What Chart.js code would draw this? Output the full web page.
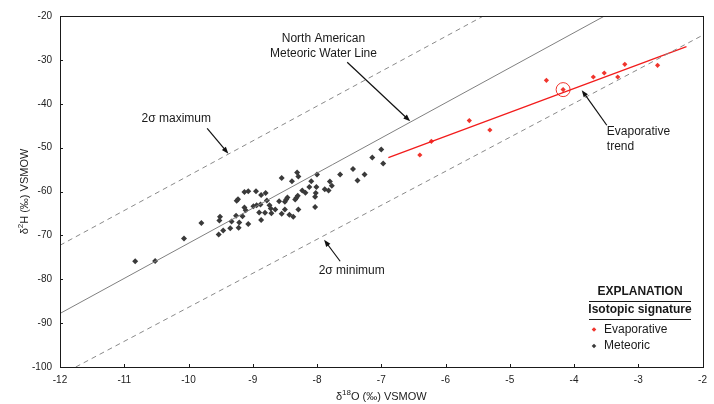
<!DOCTYPE html>
<html>
<head>
<meta charset="utf-8">
<script src="https://cdn.jsdelivr.net/npm/chart.js@4"></script>
<style>
  html,body{margin:0;padding:0;background:#fff;}
  #c{display:block;}
</style>
</head>
<body>
<canvas id="c" width="714" height="404"></canvas>
<script>
// ---- data ----
const metX=[-7.00,-7.14,-6.97,-7.44,-7.26,-7.37,-7.64,-8.00,-8.31,-8.29,
  -8.55,-8.39,-7.80,-7.77,-8.09,-8.12,-8.01,-7.88,-7.82,-8.02,
  -8.18,-8.23,-8.03,-8.30,-8.32,-8.34,-8.46,-8.48,-8.50,-8.59,
  -8.80,-8.87,-8.95,-9.07,-9.13,-8.78,-9.23,-9.25,-8.88,-8.74,
  -8.72,-8.65,-8.94,-8.99,-9.13,-9.11,-8.50,-8.29,-8.03,-8.90,
  -8.81,-8.71,-8.55,-9.26,-8.43,-8.37,-8.87,-9.33,-9.21,-9.07,
  -9.35,-9.22,-9.16,-10.83,-10.52,-10.07,-9.80,-9.53,-9.46,-9.52,-9.51];
const metY=[-50.45,-52.27,-53.64,-54.87,-56.15,-57.52,-56.15,-56.13,-55.69,-56.58,
  -56.92,-57.68,-57.72,-58.70,-57.68,-58.97,-59.00,-59.50,-59.77,-60.34,
  -60.30,-59.77,-61.21,-60.98,-61.44,-61.85,-61.39,-61.85,-62.35,-62.23,
  -60.34,-60.82,-59.95,-59.95,-60.14,-62.07,-61.78,-62.12,-62.99,-63.15,
  -63.90,-64.13,-63.15,-63.37,-63.65,-64.29,-64.13,-64.13,-63.53,-64.81,
  -64.86,-64.97,-65.08,-65.54,-65.31,-65.77,-66.52,-66.84,-67.07,-67.43,
  -68.39,-68.27,-65.65,-75.91,-75.84,-70.73,-67.20,-69.82,-68.91,-66.61,-65.77];
const evapX=[-4.43,-4.17,-3.70,-3.53,-3.21,-3.32,-2.70,-5.63,-5.31,-6.22,-6.40];
const evapY=[-34.66,-36.78,-33.90,-32.99,-31.01,-33.90,-31.24,-43.84,-45.98,-48.56,-51.68];
const circledX=[-4.17], circledY=[-36.78];

const trendX=[-6.89,-2.25], trendY=[-52.27,-27.0];
const mwlX=[-12,-3.525], mwlY=[-87.8,-20];
const maxX=[-12,-5.41], maxY=[-72.26,-20];
const minX=[-11.755,-2], minY=[-100,-24.4];

const xTicks=[-12,-11,-10,-9,-8,-7,-6,-5,-4,-3,-2];
const yTicks=[-100,-90,-80,-70,-60,-50,-40,-30,-20];

const pts=(xs,ys)=>xs.map((x,i)=>({x:x,y:ys[i]}));

// annotation placement in data units
const notes=[
  {lines:['North American','Meteoric Water Line'],x:-7.90,y:-25.1,align:'center'},
  {lines:['2\u03c3 maximum'],x:-10.19,y:-43.3,align:'center'},
  {lines:['2\u03c3 minimum'],x:-7.46,y:-78.0,align:'center'},
  {lines:['Evaporative','trend'],x:-3.49,y:-46.3,align:'left'}
];
const arrows=[
  [-7.53,-30.55,-6.55,-44.0],
  [-9.71,-45.6,-9.38,-51.4],
  [-7.64,-75.9,-7.89,-71.0],
  [-3.49,-44.9,-3.88,-36.9]
];

const FONT="'Liberation Sans', Arial, sans-serif";
const MET='#3a3a3a', EVAP='#f0352d';

function arrow(ctx,x1,y1,x2,y2){
  const a=Math.atan2(y2-y1,x2-x1), L=7, W=2.6;
  ctx.beginPath();ctx.moveTo(x1,y1);ctx.lineTo(x2-Math.cos(a)*L*0.8,y2-Math.sin(a)*L*0.8);ctx.stroke();
  ctx.beginPath();
  ctx.moveTo(x2,y2);
  ctx.lineTo(x2-L*Math.cos(a)+W*Math.sin(a),y2-L*Math.sin(a)-W*Math.cos(a));
  ctx.lineTo(x2-L*Math.cos(a)-W*Math.sin(a),y2-L*Math.sin(a)+W*Math.cos(a));
  ctx.closePath();ctx.fill();
}

function supText(ctx,parts,cx,cy){
  // parts: [text, isSuper]
  let w=0;
  parts.forEach(p=>{ctx.font=(p[1]?'8px ':'11px ')+FONT;w+=ctx.measureText(p[0]).width;});
  let x=cx-w/2;
  ctx.textAlign='left';ctx.textBaseline='middle';
  parts.forEach(p=>{
    ctx.font=(p[1]?'8px ':'11px ')+FONT;
    ctx.fillText(p[0],x,p[1]?cy-4:cy);
    x+=ctx.measureText(p[0]).width;
  });
}

function diamond(ctx,x,y,r,col){
  ctx.fillStyle=col;ctx.beginPath();
  ctx.moveTo(x,y-r);ctx.lineTo(x+r,y);ctx.lineTo(x,y+r);ctx.lineTo(x-r,y);ctx.closePath();ctx.fill();
}

const overlay={
  id:'overlay',
  afterDraw(chart){
    const ctx=chart.ctx, a=chart.chartArea, sx=chart.scales.x, sy=chart.scales.y;
    ctx.save();
    // frame + inside ticks
    ctx.strokeStyle='#1a1a1a';ctx.lineWidth=1;
    ctx.strokeRect(Math.round(a.left)+0.5,Math.round(a.top)+0.5,Math.round(a.right-a.left),Math.round(a.bottom-a.top));
    ctx.beginPath();
    xTicks.forEach(v=>{const px=Math.round(sx.getPixelForValue(v))+0.5;ctx.moveTo(px,a.bottom);ctx.lineTo(px,a.bottom-3);});
    yTicks.forEach(v=>{const py=Math.round(sy.getPixelForValue(v))+0.5;ctx.moveTo(a.left,py);ctx.lineTo(a.left+3,py);});
    ctx.stroke();

    // annotations
    ctx.fillStyle='#1a1a1a';ctx.font='12px '+FONT;ctx.textBaseline='middle';
    notes.forEach(n=>{
      ctx.textAlign=n.align;
      const px=sx.getPixelForValue(n.x), py=sy.getPixelForValue(n.y);
      n.lines.forEach((t,i)=>ctx.fillText(t,px,py+i*15));
    });
    ctx.strokeStyle='#111';ctx.fillStyle='#111';ctx.lineWidth=1.2;
    arrows.forEach(r=>arrow(ctx,sx.getPixelForValue(r[0]),sy.getPixelForValue(r[1]),sx.getPixelForValue(r[2]),sy.getPixelForValue(r[3])));

    // explanation box
    const lx=640;
    ctx.fillStyle='#1a1a1a';ctx.textAlign='center';
    ctx.font='bold 12px '+FONT;
    ctx.fillText('EXPLANATION',lx,292);
    ctx.fillText('Isotopic signature',lx,310);
    ctx.lineWidth=1;ctx.strokeStyle='#1a1a1a';
    ctx.beginPath();ctx.moveTo(589,301.5);ctx.lineTo(691,301.5);ctx.moveTo(589,319.5);ctx.lineTo(691,319.5);ctx.stroke();
    ctx.font='12px '+FONT;ctx.textAlign='left';
    diamond(ctx,594,329.5,2.3,EVAP);
    diamond(ctx,594,346,2.3,MET);
    ctx.fillStyle='#1a1a1a';
    ctx.fillText('Evaporative',604,329.5);
    ctx.fillText('Meteoric',604,346);

    // axis titles
    ctx.fillStyle='#1a1a1a';
    supText(ctx,[['\u03b4',false],['18',true],['O (\u2030) VSMOW',false]],(a.left+a.right)/2,397);
    ctx.translate(25,(a.top+a.bottom)/2);ctx.rotate(-Math.PI/2);
    supText(ctx,[['\u03b4',false],['2',true],['H (\u2030) VSMOW',false]],0,0);
    ctx.restore();
  }
};

const lineDs=(d,col,dash,w)=>({type:'line',data:d,borderColor:col,borderWidth:w||1,borderDash:dash||[],pointRadius:0,fill:false,tension:0});

new Chart(document.getElementById('c'),{
  type:'scatter',
  data:{datasets:[
    lineDs(pts(maxX,maxY),'#8a8a8a',[5,4]),
    lineDs(pts(minX,minY),'#8a8a8a',[5,4]),
    lineDs(pts(mwlX,mwlY),'#808080'),
    lineDs(pts(trendX,trendY),'#f21c1c',null,1.3),
    {label:'Meteoric',data:pts(metX,metY),pointStyle:'rectRot',pointRadius:3,backgroundColor:MET,borderColor:MET,borderWidth:0},
    {label:'Evaporative',data:pts(evapX,evapY),pointStyle:'rectRot',pointRadius:2.6,backgroundColor:EVAP,borderColor:EVAP,borderWidth:0},
    {label:'circled',data:pts(circledX,circledY),pointStyle:'circle',pointRadius:7,backgroundColor:'rgba(0,0,0,0)',borderColor:'#f0352d',borderWidth:1}
  ]},
  options:{
    responsive:false,animation:false,devicePixelRatio:1,
    layout:{padding:{top:16,right:10,left:0,bottom:0}},
    plugins:{legend:{display:false},tooltip:{enabled:false}},
    scales:{
      x:{type:'linear',min:-12,max:-2,
        afterBuildTicks:s=>{s.ticks=xTicks.map(v=>({value:v}));},
        afterFit:s=>{s.height=37;},
        grid:{display:false,drawTicks:false},border:{display:false},
        ticks:{padding:7,color:'#222',font:{family:FONT,size:10},callback:v=>String(v)}},
      y:{type:'linear',min:-100,max:-20,
        afterBuildTicks:s=>{s.ticks=yTicks.map(v=>({value:v}));},
        afterFit:s=>{s.width=60;},
        grid:{display:false,drawTicks:false},border:{display:false},
        ticks:{padding:8,color:'#222',font:{family:FONT,size:10},callback:v=>String(v)}}
    }
  },
  plugins:[overlay]
});
</script>
</body>
</html>
